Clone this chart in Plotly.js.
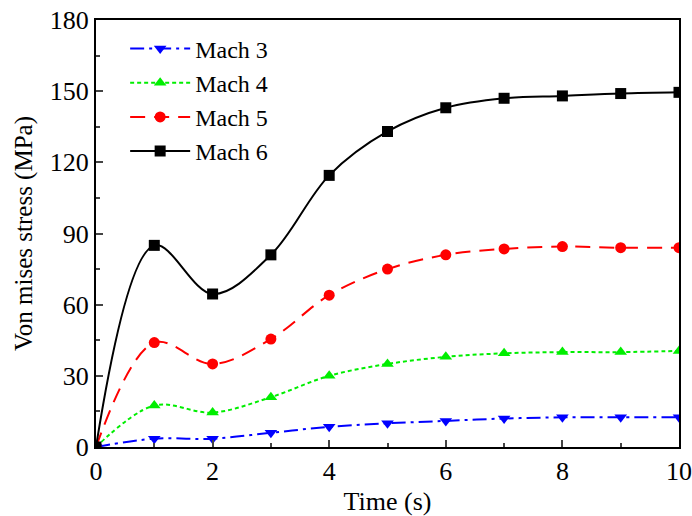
<!DOCTYPE html>
<html>
<head>
<meta charset="utf-8">
<script src="https://cdn.plot.ly/plotly-3.0.1.min.js"></script>
<style>html,body{margin:0;padding:0;background:#fff;}#chart{width:692px;height:516px;}</style>
</head>
<body>
<div id="chart"></div>
<script>
const time = [0, 1, 2, 3, 4, 5, 6, 7, 8, 9, 10];
const mach3 = [0, 3.5, 3.5, 6, 8.5, 10, 11, 12, 12.5, 12.5, 12.5];
const mach4 = [0, 17.5, 14.5, 21, 30, 35, 38, 39.5, 40, 40, 40.5];
const mach5 = [0, 44, 35, 45.5, 64, 75, 81, 83.5, 84.5, 84, 84];
const mach6 = [0, 85, 64.5, 81, 114.5, 133, 143, 147, 148, 149, 149.5];
const names = ["Mach 3", "Mach 4", "Mach 5", "Mach 6"];
const xTicks = [0, 2, 4, 6, 8, 10];
const yTicks = [0, 30, 60, 90, 120, 150, 180];

const series = [mach3, mach4, mach5, mach6];
const colors = ["#0000ff", "#00ee00", "#ff0000", "#000000"];
const dashes = ["14px,5px,3px,5px", "4px,3px", "15px,9px", "solid"];
const symbols = ["triangle-down", "triangle-up", "circle", "square"];

const traces = series.map((s, i) => ({
  x: time, y: s, name: names[i], type: "scatter", mode: "lines+markers",
  line: {color: colors[i], dash: dashes[i], width: 2, shape: "spline", smoothing: 1},
  marker: {color: colors[i], symbol: symbols[i], size: 11}
}));

const font = {family: "Liberation Serif, Times New Roman, serif", color: "#000"};

const layout = {
  width: 692, height: 516,
  margin: {l: 96, r: 13, t: 20, b: 69},
  paper_bgcolor: "#fff", plot_bgcolor: "#fff",
  showlegend: true,
  legend: {x: 0.05, y: 0.985, xanchor: "left", yanchor: "top", bgcolor: "rgba(0,0,0,0)",
    font: Object.assign({size: 24}, font), tracegroupgap: 0, itemwidth: 60},
  xaxis: {
    range: [0, 10], tickvals: xTicks, ticks: "inside", ticklen: 7, tickwidth: 2,
    minor: {tickvals: [1, 3, 5, 7, 9], ticks: "inside", ticklen: 4, tickwidth: 2},
    showline: true, linewidth: 2, linecolor: "#000", mirror: true, showgrid: false, zeroline: false,
    tickfont: Object.assign({size: 26}, font),
    title: {text: "Time (s)", font: Object.assign({size: 26}, font), standoff: 8}
  },
  yaxis: {
    range: [0, 180], tickvals: yTicks, ticks: "inside", ticklen: 7, tickwidth: 2,
    minor: {tickvals: [15, 45, 75, 105, 135, 165], ticks: "inside", ticklen: 4, tickwidth: 2},
    showline: true, linewidth: 2, linecolor: "#000", mirror: true, showgrid: false, zeroline: false,
    tickfont: Object.assign({size: 26}, font),
    title: {text: "Von mises stress (MPa)", font: Object.assign({size: 25}, font), standoff: 10}
  }
};

Plotly.newPlot("chart", traces, layout, {displayModeBar: false, staticPlot: true});
</script>
</body>
</html>
